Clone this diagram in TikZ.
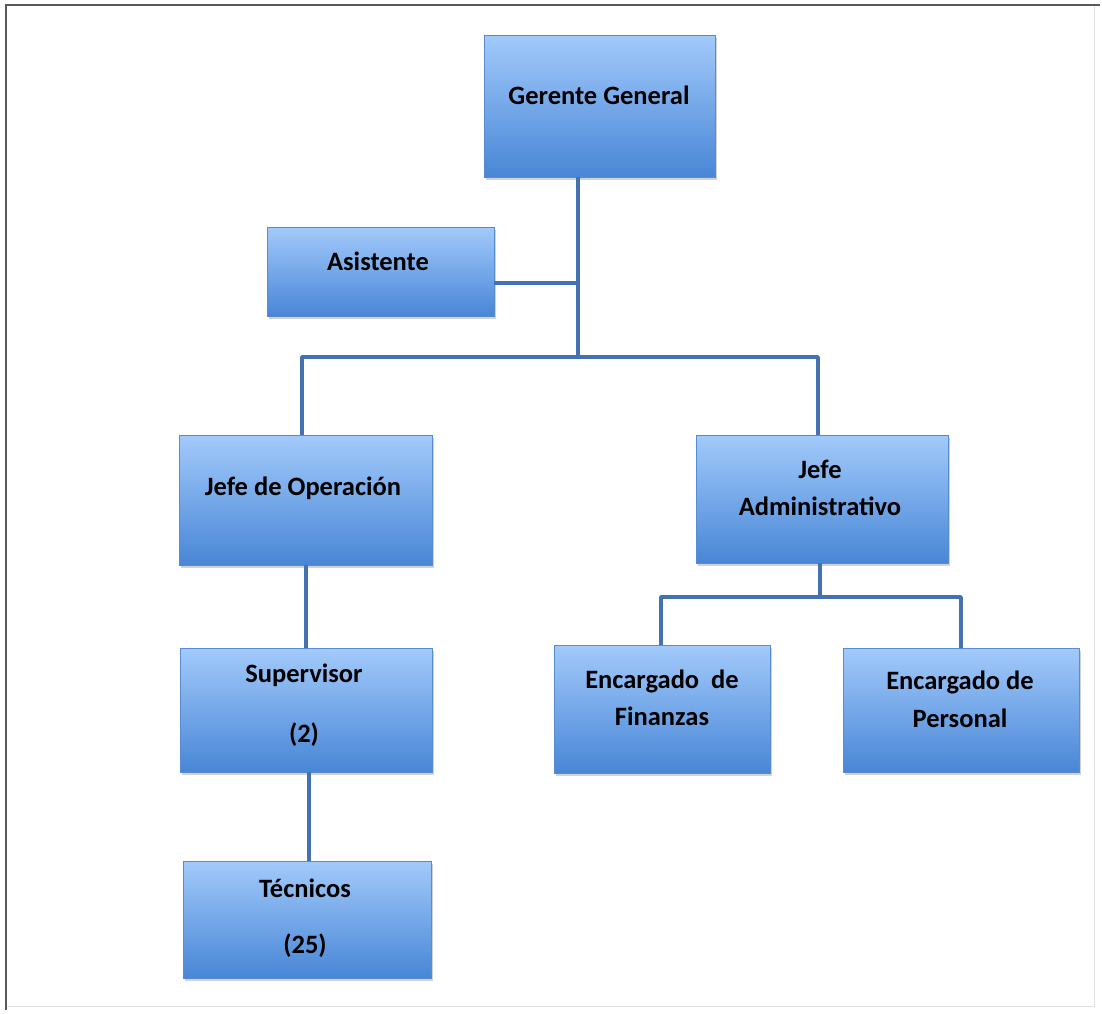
\documentclass[tikz,border=0pt]{standalone}
\usepackage{fontspec}
\setmainfont{Carlito}
\usetikzlibrary{shadows}
\definecolor{boxtop}{RGB}{162,202,251}
\definecolor{boxmid}{RGB}{128,178,243}
\definecolor{boxbot}{RGB}{72,134,214}
\definecolor{boxedge}{RGB}{88,140,210}
\definecolor{linkc}{RGB}{68,114,176}
\begin{document}
\begin{tikzpicture}[x=1pt,y=-1pt,
  orgbox/.style={draw=boxedge,line width=0.6pt,rectangle,inner sep=0pt,
    top color=boxtop,middle color=boxmid,bottom color=boxbot,
    drop shadow={shadow xshift=1.5pt,shadow yshift=-2.5pt,opacity=0.35}},
  lbl/.style={font=\fontsize{26.5}{30}\selectfont\bfseries,text=black,inner sep=0pt,anchor=base},
  link/.style={draw=linkc,line width=3.6pt}]
\useasboundingbox (0,0) rectangle (1102,1013);
\fill[white] (0,0) rectangle (1102,1013);
% frame
\draw[black!12,line width=1pt] (6,5) rectangle (1094,1006);
\draw[black!65,line width=2.6pt] (6,1010) -- (6,5) -- (1100,5);
% boxes
\node[orgbox,minimum width=231pt,minimum height=142pt] (gg) at (599.5,106) {};
\node[orgbox,minimum width=227pt,minimum height=89pt] (as) at (380.5,271.5) {};
\node[orgbox,minimum width=253pt,minimum height=130pt] (jo) at (305.5,500) {};
\node[orgbox,minimum width=252pt,minimum height=128pt] (ja) at (822,499) {};
\node[orgbox,minimum width=252pt,minimum height=124pt] (sv) at (306,710) {};
\node[orgbox,minimum width=248pt,minimum height=117pt] (tc) at (307,919.5) {};
\node[orgbox,minimum width=216pt,minimum height=128pt] (ef) at (662,709) {};
\node[orgbox,minimum width=236pt,minimum height=124pt] (ep) at (961,710) {};
% texts
\node[lbl] (t1) at (599,104) {Gerente General};
\node[lbl] (t2) at (378,270) {Asistente};
\node[lbl] (t3) at (303,495) {Jefe de Operación};
\node[lbl] (t4a) at (820,478) {Jefe};
\node[lbl] (t4b) at (820,515) {Administrativo};
\node[lbl] (t5a) at (304,682) {Supervisor};
\node[lbl] (t5b) at (304,742) {(2)};
\node[lbl] (t6a) at (305,897) {Técnicos};
\node[lbl] (t6b) at (305,953) {(25)};
\node[lbl] (t7a) at (662,688) {Encargado\ \ de};
\node[lbl] (t7b) at (662,725) {Finanzas};
\node[lbl] (t8a) at (960,689) {Encargado de};
\node[lbl] (t8b) at (960,727) {Personal};
% connectors
\coordinate (j1) at (578,283);
\coordinate (j2) at (578,357);
\coordinate (jl) at (302,357);
\coordinate (jr) at (818,357);
\coordinate (k0) at (820,597);
\coordinate (kl) at (661,597);
\coordinate (kr) at (961,597);
\draw[link] (gg.south -| j1) -- (j2);
\draw[link] (as.east |- j1) -- (j1);
\draw[link,line join=round] (jl |- jo.north) -- (jl) -- (jr) -- (jr |- ja.north);
\draw[link] (jo.south -| 306,0) -- (sv.north -| 306,0);
\draw[link] (sv.south -| 309,0) -- (tc.north -| 309,0);
\draw[link] (ja.south -| k0) -- (k0);
\draw[link,line join=round] (kl |- ef.north) -- (kl) -- (kr) -- (kr |- ep.north);
\end{tikzpicture}
\end{document}
